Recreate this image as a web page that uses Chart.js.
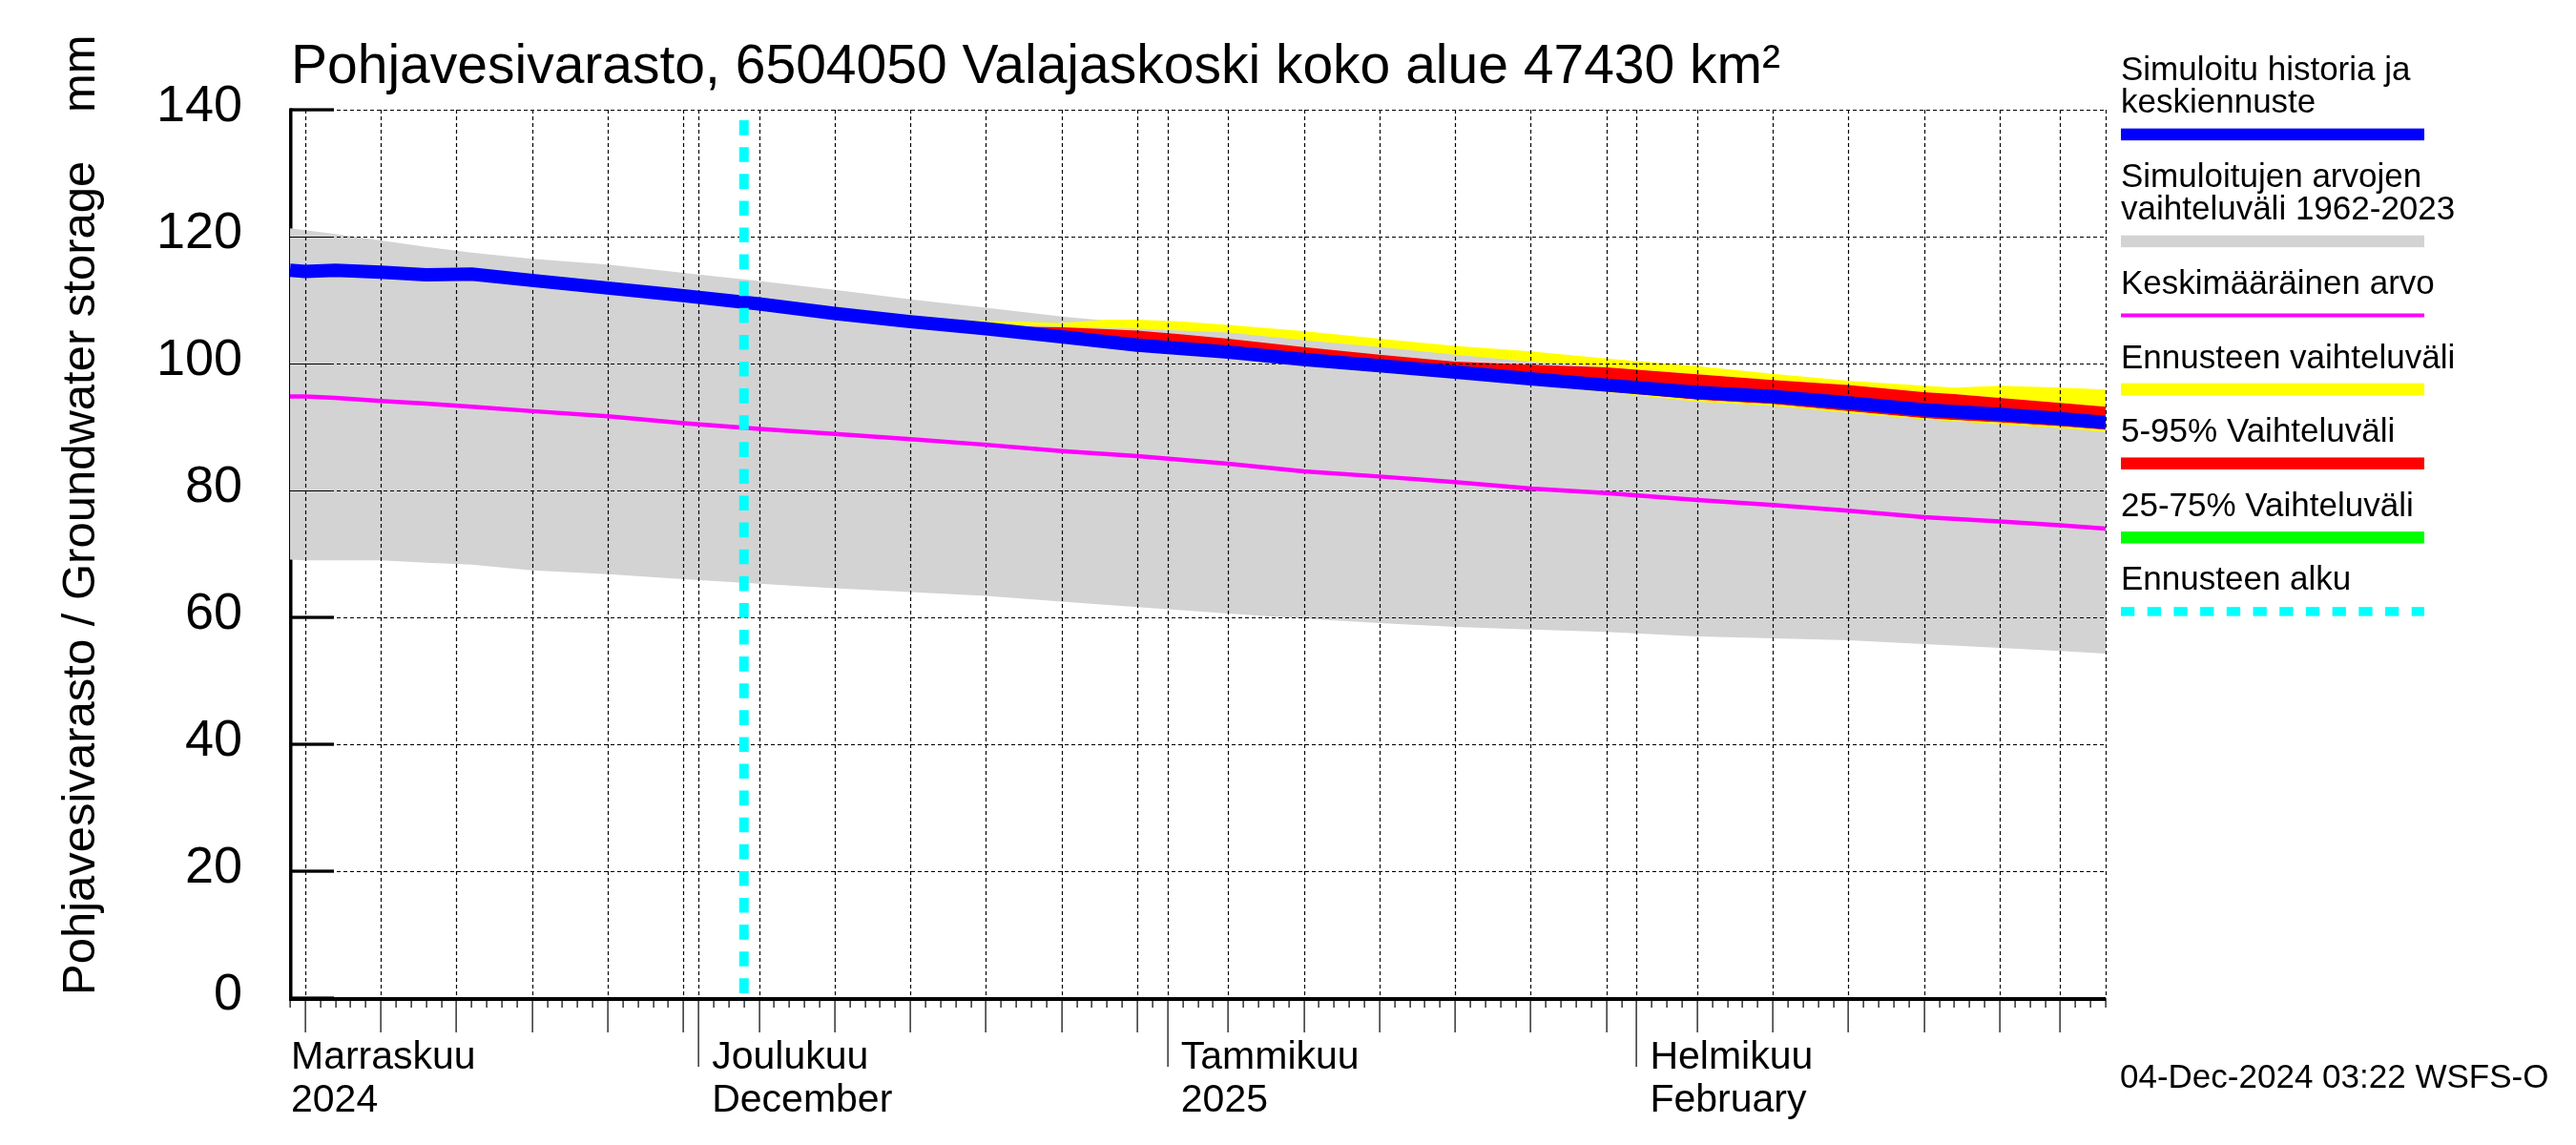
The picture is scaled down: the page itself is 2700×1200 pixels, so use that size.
<!DOCTYPE html>
<html>
<head>
<meta charset="utf-8">
<script src="https://cdn.jsdelivr.net/npm/chart.js@4.4.1/dist/chart.umd.min.js"></script>
<style>
  body { margin: 0; background: #fff; }
  canvas { display: block; }
</style>
</head>
<body>
<canvas id="kaavio" width="2700" height="1200"></canvas>
<script>
// paiva 0 = 1.11.2024
var paivat = [3, 4, 6, 9, 12, 15, 19, 24, 29, 34, 39, 44, 49, 54, 59, 65, 70, 75, 80, 85, 90, 96, 101, 106, 111, 116, 120, 123]
var simuloitu = [114.7, 114.5, 114.7, 114.4, 114.0, 114.1, 113.1, 111.9, 110.7, 109.4, 107.9, 106.6, 105.5, 104.2, 102.9, 101.8, 100.65, 99.65, 98.65, 97.6, 96.6, 95.45, 94.8, 93.8, 92.7, 92.0, 91.3, 90.7]
var histMax = [121.3, 121.0, 120.4, 119.4, 118.4, 117.5, 116.5, 115.6, 114.3, 113.0, 111.6, 110.1, 108.8, 107.4, 106.3, 105.3, 104.1, 102.9, 101.8, 100.7, 99.5, 98.0, 97.0, 96.0, 94.8, 94.0, 93.3, 92.6]
var histMin = [69.1, 69.0, 69.0, 69.0, 68.6, 68.3, 67.4, 66.8, 66.0, 65.3, 64.6, 64.0, 63.4, 62.5, 61.6, 60.6, 59.8, 59.1, 58.5, 58.1, 57.7, 57.0, 56.7, 56.4, 55.8, 55.2, 54.7, 54.3]
var keskiarvo = [94.8, 94.8, 94.6, 94.1, 93.7, 93.2, 92.5, 91.7, 90.6, 89.7, 88.9, 88.1, 87.2, 86.2, 85.4, 84.2, 83.0, 82.2, 81.3, 80.3, 79.6, 78.5, 77.7, 76.8, 75.8, 75.1, 74.5, 74.0]

var ennPaivat = [33, 39, 44, 48, 54, 57, 59, 62, 65, 70, 75, 80, 85, 90, 96, 101, 106, 111, 113, 116, 120, 123]
var ennMax = [109.6, 108.0, 106.8, 106.8, 106.4, 106.9, 106.9, 106.6, 106.1, 105.1, 103.9, 102.8, 101.9, 100.8, 99.6, 98.4, 97.3, 96.5, 96.2, 96.5, 96.2, 95.9]
var ennMaxAla = [109.6, 107.9, 106.6, 106.4, 105.8, 105.6, 105.5, 105.2, 104.9, 103.7, 102.6, 101.4, 100.3, 99.4, 98.3, 97.4, 96.6, 95.5, 95.2, 94.6, 93.8, 93.2]
var p95 = [109.6, 107.9, 106.6, 105.9, 105.7, 105.4, 105.2, 104.6, 103.9, 102.6, 101.4, 100.3, 99.8, 99.4, 98.3, 97.4, 96.6, 95.5, 95.2, 94.6, 93.8, 93.2]
var p75 = [109.6, 108.3, 107.0, 106.2, 104.7, 104.0, 103.4, 102.8, 102.3, 101.1, 100.1, 99.1, 98.1, 97.1, 95.9, 95.3, 94.3, 93.2, 92.9, 92.5, 91.8, 91.2]
var p25 = [109.6, 107.5, 106.2, 105.3, 103.7, 103.0, 102.4, 101.8, 101.3, 100.2, 99.2, 98.2, 97.1, 96.1, 95.0, 94.3, 93.3, 92.2, 91.9, 91.5, 90.8, 90.2]
var p5 = [109.5, 107.2, 105.8, 104.9, 103.3, 102.6, 102.0, 101.4, 100.9, 99.7, 98.7, 97.7, 96.7, 95.6, 94.3, 93.6, 92.5, 91.4, 91.1, 90.7, 90.1, 89.55]
var ennMin = [109.4, 107.1, 105.7, 104.8, 103.2, 102.5, 101.9, 101.3, 100.8, 99.6, 98.6, 97.6, 96.6, 95.5, 94.0, 93.3, 92.2, 91.2, 90.9, 90.4, 89.8, 89.2]
var ennusteenAlku = 33

var xMin = 3, xMax = 123
var yTikit = [0, 20, 40, 60, 80, 100, 120, 140]
var kuunAlut = [0, 30, 61, 92, 120]
var kuukaudet = ['Marraskuu', 'Joulukuu', 'Tammikuu', 'Helmikuu']
var kuukaudet2 = ['2024', 'December', '2025', 'February']

var otsikko = 'Pohjavesivarasto, 6504050 Valajaskoski koko alue 47430 km\u00b2'
var yOtsikko = 'Pohjavesivarasto / Groundwater storage'
var yYksikko = 'mm'
var aikaleima = '04-Dec-2024 03:22 WSFS-O'

var selitteet = [
  { rivit: ['Simuloitu historia ja', 'keskiennuste'], vari: '#0000ff', paksuus: 12.5 },
  { rivit: ['Simuloitujen arvojen', 'vaihteluv\u00e4li 1962-2023'], vari: '#d3d3d3', paksuus: 12.5 },
  { rivit: ['Keskim\u00e4\u00e4r\u00e4inen arvo'], vari: '#ff00ff', paksuus: 4 },
  { rivit: ['Ennusteen vaihteluv\u00e4li'], vari: '#ffff00', paksuus: 13 },
  { rivit: ['5-95% Vaihteluv\u00e4li'], vari: '#ff0000', paksuus: 12.5 },
  { rivit: ['25-75% Vaihteluv\u00e4li'], vari: '#00ff00', paksuus: 12.5 },
  { rivit: ['Ennusteen alku'], vari: '#00ffff', paksuus: 9.5, katko: true }
]

var FONT = "'Liberation Sans', Arial, Helvetica, sans-serif"
var tyhja = 'rgba(0,0,0,0)'

function pisteet(xs, ys) {
  return xs.map(function (x, i) { return { x: x, y: ys[i] } })
}

function paivaKuussa(d) {
  var alku = 0
  kuunAlut.forEach(function (k) { if (d >= k) alku = k })
  return d - alku + 1
}

function alue(ys, xs, kohde, vari, jarjestys) {
  return {
    data: pisteet(xs, ys), fill: kohde === null ? false : { target: kohde },
    backgroundColor: vari, borderColor: tyhja, borderWidth: 0,
    pointRadius: 0, tension: 0, order: jarjestys
  }
}

var datasets = [
  alue(histMax, paivat, 1, '#d3d3d3', 20),        // 0
  alue(histMin, paivat, null, tyhja, 19),         // 1
  alue(ennMax, ennPaivat, 3, '#ffff00', 18),      // 2
  alue(ennMaxAla, ennPaivat, null, tyhja, 17),    // 3
  alue(p95, ennPaivat, 5, '#ff0000', 16),         // 4
  alue(p5, ennPaivat, 6, '#ffff00', 15),          // 5
  alue(ennMin, ennPaivat, null, tyhja, 14),       // 6
  alue(p75, ennPaivat, 8, '#00ff00', 13),         // 7
  alue(p25, ennPaivat, null, tyhja, 12),          // 8
  { data: pisteet(paivat, keskiarvo), borderColor: '#ff00ff', borderWidth: 4.5, pointRadius: 0, fill: false, order: 11 },
  { data: pisteet(paivat, simuloitu), borderColor: '#0000ff', borderWidth: 14, pointRadius: 0, fill: false, order: 10 },
  { data: [{ x: ennusteenAlku, y: 140 }, { x: ennusteenAlku, y: 0 }], borderColor: '#00ffff', borderWidth: 10,
    borderDash: [15.6, 12.5], borderDashOffset: 17, borderCapStyle: 'butt', pointRadius: 0, fill: false, order: 9 }
]

var piirto = {
  id: 'piirto',
  beforeDatasetsDraw: function (chart) {
    var ctx = chart.ctx, x = chart.scales.x, y = chart.scales.y, a = chart.chartArea
    ctx.save()
    ctx.fillStyle = '#000'
    ctx.fillRect(a.left - 1, a.top - 1.5, 3.5, a.bottom - a.top + 3)
    yTikit.forEach(function (v) {
      var py = y.getPixelForValue(v)
      ctx.fillRect(a.left, py - 1.6, 46, 3.3)
    })
    ctx.fillRect(a.left - 1, a.bottom - 1, a.right - a.left + 1, 4)
    for (var d = xMin; d <= xMax; d++) {
      var px = Math.round(x.getPixelForValue(d))
      var pk = paivaKuussa(d)
      var pit = 10
      if (pk === 1 && d !== 120) pit = 72
      else if (pk % 5 === 0 || pk === 1) pit = 36
      ctx.fillRect(px - 0.5, a.bottom, 1.2, pit)
    }
    ctx.restore()
  },
  afterDatasetDraw: function (chart, args) {
    if (args.index !== 8) return
    var ctx = chart.ctx, x = chart.scales.x, y = chart.scales.y, a = chart.chartArea
    ctx.save()
    ctx.strokeStyle = '#000'
    ctx.lineWidth = 1.2
    ctx.setLineDash([4, 3])
    yTikit.forEach(function (v) {
      if (v === 0) return
      var py = Math.round(y.getPixelForValue(v)) + 0.5
      ctx.beginPath(); ctx.moveTo(a.left, py); ctx.lineTo(a.right, py); ctx.stroke()
    })
    var viivat = []
    for (var d = xMin; d <= xMax; d++) {
      var pk = paivaKuussa(d)
      if (pk === 1 || pk % 5 === 0) viivat.push(x.getPixelForValue(d))
    }
    viivat.push(a.right)
    viivat.forEach(function (px) {
      px = Math.round(px) + 0.5
      ctx.beginPath(); ctx.moveTo(px, a.top); ctx.lineTo(px, a.bottom); ctx.stroke()
    })
    ctx.setLineDash([])
    yTikit.forEach(function (v) {
      var py = Math.round(y.getPixelForValue(v)) + 0.5
      ctx.beginPath(); ctx.moveTo(a.left, py); ctx.lineTo(a.left + 46, py); ctx.stroke()
    })
    ctx.restore()
  },
  afterDraw: function (chart) {
    var ctx = chart.ctx, x = chart.scales.x, y = chart.scales.y, a = chart.chartArea
    ctx.save()
    ctx.fillStyle = '#000'
    ctx.textBaseline = 'alphabetic'

    ctx.font = '57px ' + FONT
    ctx.textAlign = 'left'
    ctx.fillText(otsikko, a.left + 1, 87)

    ctx.font = '54px ' + FONT
    ctx.textAlign = 'right'
    yTikit.forEach(function (v) {
      ctx.fillText(String(v), 254, y.getPixelForValue(v) + 11.5)
    })

    ctx.save()
    ctx.translate(99, 1043)
    ctx.rotate(-Math.PI / 2)
    ctx.font = '49px ' + FONT
    ctx.textAlign = 'left'
    ctx.fillText(yOtsikko, 0, 0)
    ctx.fillText(yYksikko, 925, 0)
    ctx.restore()

    ctx.font = '41px ' + FONT
    ctx.textAlign = 'left'
    kuukaudet.forEach(function (k, i) {
      var px = i === 0 ? a.left + 1 : x.getPixelForValue(kuunAlut[i]) + 14
      ctx.fillText(k, px, 1120)
      ctx.fillText(kuukaudet2[i], px, 1165)
    })

    ctx.font = '35px ' + FONT
    ctx.fillText(aikaleima, 2222, 1140)

    // selite
    var lx = 2223, lw = 318, ly = 84
    ctx.font = '35px ' + FONT
    selitteet.forEach(function (s) {
      s.rivit.forEach(function (r, j) {
        ctx.fillText(r, lx, ly + j * 34.4)
      })
      var viim = ly + (s.rivit.length - 1) * 34.4
      var keski = viim + 22.5
      ctx.fillStyle = s.vari
      if (s.katko) {
        for (var px = lx; px < lx + lw; px += 27.7) ctx.fillRect(px, keski - s.paksuus / 2, Math.min(14.3, lx + lw - px), s.paksuus)
      } else {
        ctx.fillRect(lx, keski - s.paksuus / 2, lw, s.paksuus)
      }
      ctx.fillStyle = '#000'
      ly = viim + 77.6
    })
    ctx.restore()
  }
}

new Chart(document.getElementById('kaavio').getContext('2d'), {
  type: 'line',
  data: { datasets: datasets },
  options: {
    responsive: false,
    devicePixelRatio: 1,
    animation: false,
    layout: { padding: { left: 304, right: 493, top: 115, bottom: 154 } },
    plugins: { legend: { display: false }, tooltip: { enabled: false } },
    elements: { line: { borderJoinStyle: 'round' } },
    scales: {
      x: { type: 'linear', min: xMin, max: xMax, display: false },
      y: { type: 'linear', min: 0, max: 140, display: false }
    }
  },
  plugins: [piirto]
})
</script>
</body>
</html>
